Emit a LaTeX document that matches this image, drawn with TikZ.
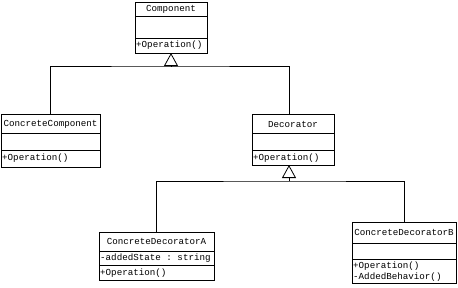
\documentclass[tikz,border=0pt]{standalone}
\usepackage{fontspec}
\setmonofont{Liberation Mono}
\usetikzlibrary{arrows.meta}
\tikzset{
  x=1pt, y=1pt,
  box/.style={draw, line width=0.8pt, inner sep=0pt, outer sep=0pt, anchor=north west},
  sep/.style={line width=0.8pt},
  title/.style={font=\ttfamily\fontsize{9.2}{10}\selectfont, inner sep=0pt, anchor=center},
  member/.style={font=\ttfamily\fontsize{9.2}{10}\selectfont, inner sep=0pt, anchor=west},
  conn/.style={line width=0.8pt},
  gen/.style={line width=0.8pt, -{Triangle[open,length=13pt,width=14pt,line width=0.8pt]}}
}
\begin{document}
\begin{tikzpicture}
\useasboundingbox (0,0) rectangle (458,-287);
% Component
\node[box, minimum width=72pt, minimum height=51pt] (comp) at (135,-2) {};
\draw[sep] (135,-16) -- (207,-16);
\draw[sep] (135,-38) -- (207,-38);
\node[title] (compt) at (171,-9.5) {Component};
\node[member] (compo) at (136,-45) {+Operation()};
% ConcreteComponent
\node[box, minimum width=99pt, minimum height=53pt] (cc) at (1,-114) {};
\draw[sep] (1,-133) -- (100,-133);
\draw[sep] (1,-150) -- (100,-150);
\node[title] (cct) at (50.5,-124) {ConcreteComponent};
\node[member] (cco) at (2,-158) {+Operation()};
% Decorator
\node[box, minimum width=82pt, minimum height=51pt] (dec) at (252,-114) {};
\draw[sep] (252,-133) -- (334,-133);
\draw[sep] (252,-150) -- (334,-150);
\node[title] (dect) at (293,-124) {Decorator};
\node[member] (deco) at (253,-158) {+Operation()};
% ConcreteDecoratorA
\node[box, minimum width=115pt, minimum height=48pt] (da) at (99,-232) {};
\draw[sep] (99,-251) -- (214,-251);
\draw[sep] (99,-265) -- (214,-265);
\node[title] (dat) at (156.5,-241) {ConcreteDecoratorA};
\node[member] (daa) at (100,-258) {-addedState : string};
\node[member] (dao) at (100,-273) {+Operation()};
% ConcreteDecoratorB
\node[box, minimum width=104pt, minimum height=61pt] (db) at (352,-222) {};
\draw[sep] (352,-243) -- (456,-243);
\draw[sep] (352,-259) -- (456,-259);
\node[title] (dbt) at (404,-232) {ConcreteDecoratorB};
\node[member] (dbo) at (353,-266) {+Operation()};
\node[member] (dbb) at (353,-277) {-AddedBehavior()};
% connectors
\coordinate (hub1) at (171,-66);
\coordinate (hub2) at (289,-181);
\draw[conn] (cc.north) |- (hub1) -| (dec.north -| hub2);
\draw[gen] (hub1) -- (comp.south);
\draw[conn] (da.north) |- (hub2) -| (db.north);
\draw[gen] (hub2) -- (dec.south -| hub2);
\end{tikzpicture}
\end{document}
